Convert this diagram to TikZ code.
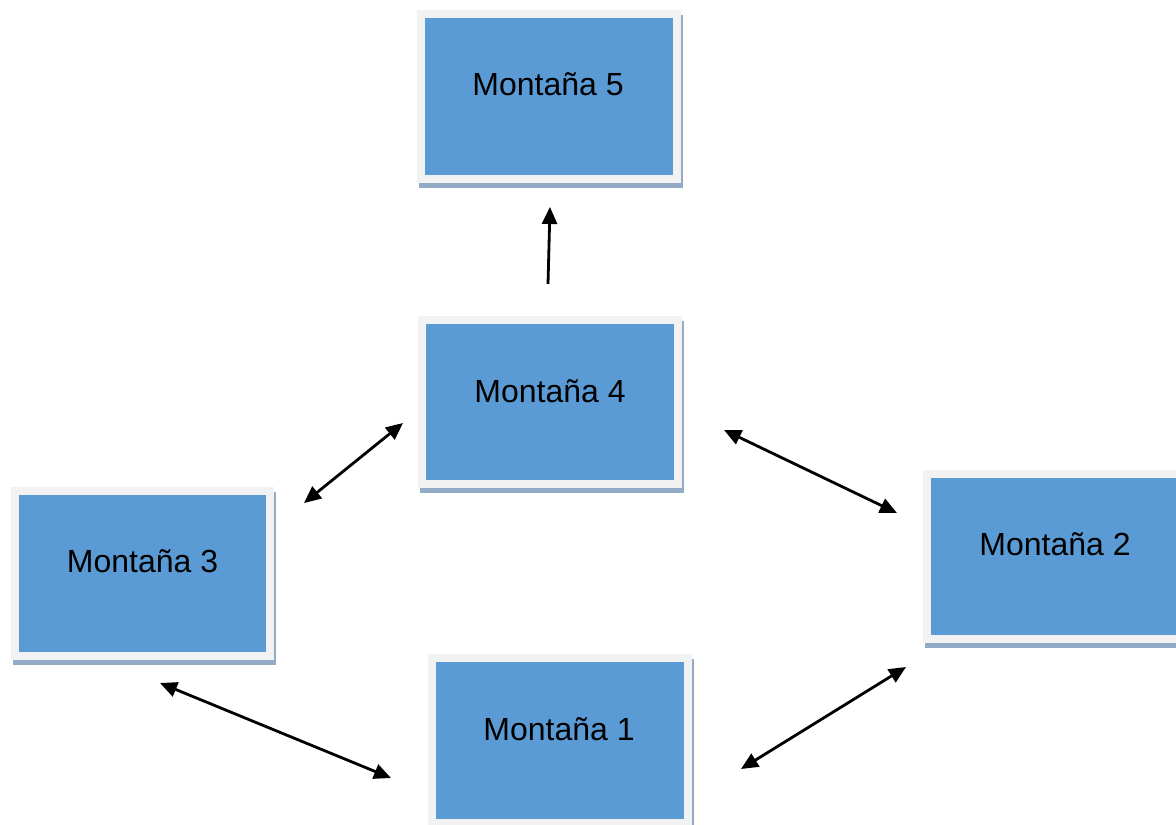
\documentclass[tikz,border=0pt]{standalone}
\usepackage{fontspec}
\setmainfont{Liberation Sans}
\usetikzlibrary{arrows.meta,backgrounds}
\definecolor{boxblue}{HTML}{5B9BD5}
\definecolor{boxframe}{HTML}{F2F2F2}
\definecolor{boxshadow}{HTML}{94ABC5}
\tikzset{
  mbox/.style={draw=boxframe, line width=8pt, fill=boxblue, inner sep=0pt,
    minimum width=256pt, minimum height=165pt},
  mlabel/.style={anchor=base, font=\fontsize{32pt}{36pt}\selectfont, text=black, inner sep=0pt},
  tip/.style={Triangle[length=17pt,width=15pt]},
  link/.style={line width=2.8pt, -{Triangle[length=17pt,width=15pt]}},
  dlink/.style={line width=2.8pt, {Triangle[length=17pt,width=15pt]}-{Triangle[length=17pt,width=15pt]}},
  bshadow/.style={fill=boxshadow}
}
\begin{document}
\begin{tikzpicture}[x=1pt,y=-1pt]
\useasboundingbox (0,0) rectangle (1176,825);
\clip (0,0) rectangle (1176,825);

% boxes
\node[mbox] (b5) at (549,96.5) {};
\node[mbox, minimum height=164pt] (b4) at (550,402) {};
\node[mbox] (b2) at (1055,556.5) {};
\node[mbox] (b1) at (560,740.5) {};
\node[mbox, minimum width=255pt] (b3) at (142.5,573) {};

% page and drop shadows behind the boxes
\begin{pgfonlayer}{background}
  \fill[white] (0,0) rectangle (1176,825);
  \foreach \b in {b5,b4,b2,b1,b3}{
    \fill[bshadow] ([xshift=2pt,yshift=-5pt]\b.north west) rectangle ([xshift=2pt,yshift=-5pt]\b.south east);
  }
\end{pgfonlayer}

% labels
\node[mlabel] (t5) at (548,95) {Montaña 5};
\node[mlabel] (t4) at (550,402) {Montaña 4};
\node[mlabel] (t2) at (1055,555) {Montaña 2};
\node[mlabel] (t1) at (559,740) {Montaña 1};
\node[mlabel] (t3) at (142.5,572) {Montaña 3};

% connector end points
\coordinate (a45s) at (548,284);
\coordinate (a45e) at (550,207);
\coordinate (a43a) at (403,423);
\coordinate (a43b) at (304,503);
\coordinate (a42a) at (724,430);
\coordinate (a42b) at (897,513);
\coordinate (a31a) at (160,683);
\coordinate (a31b) at (391,778);
\coordinate (a12a) at (741,769);
\coordinate (a12b) at (906,667);

% connectors
\draw[link] (a45s) -- (a45e);
\draw[dlink] (a43b) -- (a43a);
\draw[dlink] (a42a) -- (a42b);
\draw[dlink] (a31a) -- (a31b);
\draw[dlink] (a12a) -- (a12b);
\end{tikzpicture}
\end{document}
